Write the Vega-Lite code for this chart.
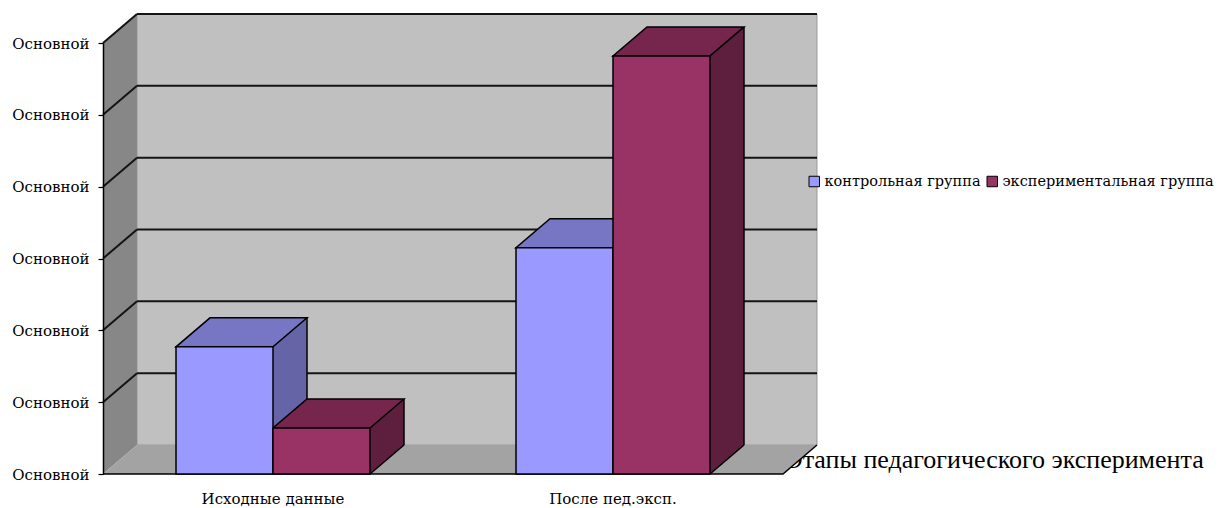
{
  "$schema": "https://vega.github.io/schema/vega-lite/v6.json",
  "width": 680,
  "height": 431,
  "autosize": {"type": "none"},
  "padding": {"left": 103, "top": 43, "right": 443, "bottom": 34},
  "background": "#ffffff",
  "config": {"view": {"stroke": null}, "axis": {"grid": false}},
  "datasets": {
    "results": [
      {"stage": "Исходные данные", "group": "контрольная группа", "value": 1.77},
      {"stage": "Исходные данные", "group": "экспериментальная группа", "value": 0.64},
      {"stage": "После пед.эксп.", "group": "контрольная группа", "value": 3.15},
      {"stage": "После пед.эксп.", "group": "экспериментальная группа", "value": 5.82}
    ],
    "levels": [
      {"level": 1}, {"level": 2}, {"level": 3}, {"level": 4}, {"level": 5}, {"level": 6}
    ],
    "frame": [{"part": "walls"}]
  },
  "layer": [
    {
      "description": "back wall, pushed back by the depth offset",
      "data": {"name": "frame"},
      "mark": {"type": "rect", "fill": "#C0C0C0", "stroke": "#9a9a9a", "strokeWidth": 1, "xOffset": 34, "x2Offset": 34, "yOffset": -29, "y2Offset": -29},
      "encoding": {
        "x": {"value": 0},
        "x2": {"value": "width"},
        "y": {
          "datum": 6, "type": "quantitative",
          "scale": {"domain": [0, 6], "nice": false, "zero": true},
          "axis": {
            "values": [0, 1, 2, 3, 4, 5, 6],
            "labelExpr": "'Основной'",
            "title": null,
            "grid": false,
            "labelFont": "DejaVu Serif",
            "labelFontSize": 15,
            "labelColor": "#000000",
            "labelPadding": 9,
            "tickSize": 5,
            "tickColor": "#000000",
            "tickWidth": 1.2,
            "domainColor": "#000000",
            "domainWidth": 1.5,
            "zindex": 1
          }
        },
        "y2": {"datum": 0}
      }
    },
    {
      "description": "left side wall",
      "data": {"name": "frame"},
      "mark": {"type": "point", "shape": "M0,0 V-431 L34,-460 V-29 Z", "size": 4, "filled": true, "fill": "#878787", "strokeWidth": 0, "opacity": 1},
      "encoding": {"x": {"value": 0}, "y": {"datum": 0, "type": "quantitative"}}
    },
    {
      "description": "floor",
      "data": {"name": "frame"},
      "mark": {"type": "point", "shape": "M0,0 H680 L714,-29 H34 Z", "size": 4, "filled": true, "fill": "#A3A3A3", "strokeWidth": 0, "opacity": 1},
      "encoding": {"x": {"value": 0}, "y": {"datum": 0, "type": "quantitative"}}
    },
    {
      "description": "floor front and right edges",
      "data": {"name": "frame"},
      "mark": {"type": "point", "shape": "M0,0 H680 L714,-29", "size": 4, "filled": false, "stroke": "#000000", "strokeWidth": 1.5, "opacity": 1},
      "encoding": {"x": {"value": 0}, "y": {"datum": 0, "type": "quantitative"}}
    },
    {
      "description": "gridlines on the back wall",
      "data": {"name": "levels"},
      "mark": {"type": "rule", "stroke": "#141414", "strokeWidth": 2, "xOffset": 34, "x2Offset": 34, "yOffset": -29},
      "encoding": {
        "x": {"value": 0},
        "x2": {"value": "width"},
        "y": {"field": "level", "type": "quantitative"}
      }
    },
    {
      "description": "gridlines on the side wall",
      "data": {"name": "levels"},
      "mark": {"type": "rule", "stroke": "#141414", "strokeWidth": 2, "x2Offset": 34, "y2Offset": -29},
      "encoding": {
        "x": {"value": 0},
        "x2": {"value": 0},
        "y": {"field": "level", "type": "quantitative"},
        "y2": {"field": "level"}
      }
    },
    {
      "data": {"name": "results"},
      "layer": [
        {
          "description": "side face body, control group",
          "transform": [{"filter": {"field": "group", "equal": "контрольная группа"}}],
          "mark": {"type": "rule", "stroke": "#6464A6", "strokeWidth": 34, "xOffset": 17, "y2Offset": -29, "opacity": 1},
          "encoding": {
            "x": {"field": "stage", "type": "nominal", "bandPosition": 0.5},
            "y": {"field": "value", "type": "quantitative"},
            "y2": {"datum": 0}
          }
        },
        {
          "description": "side face body, experimental group",
          "transform": [{"filter": {"field": "group", "equal": "экспериментальная группа"}}],
          "mark": {"type": "rule", "stroke": "#5E1E3E", "strokeWidth": 34, "xOffset": 114, "y2Offset": -29, "opacity": 1},
          "encoding": {
            "x": {"field": "stage", "type": "nominal", "bandPosition": 0.5},
            "y": {"field": "value", "type": "quantitative"},
            "y2": {"datum": 0}
          }
        },
        {
          "description": "side face top corner",
          "mark": {"type": "point", "shape": "M48.5,0 L82.5,-29 V2 H48.5 Z", "size": 4, "filled": true, "strokeWidth": 0, "opacity": 1},
          "encoding": {
            "x": {"field": "stage", "type": "nominal"},
            "xOffset": {"field": "group", "type": "nominal", "sort": null},
            "y": {"field": "value", "type": "quantitative"},
            "fill": {"condition": {"test": "datum.group === 'контрольная группа'", "value": "#6464A6"}, "value": "#5E1E3E"}
          }
        },
        {
          "description": "side face bottom corner",
          "mark": {"type": "point", "shape": "M48.5,-32 V0 L82.5,-29 V-32 Z", "size": 4, "filled": true, "strokeWidth": 0, "opacity": 1},
          "encoding": {
            "x": {"field": "stage", "type": "nominal"},
            "xOffset": {"field": "group", "type": "nominal", "sort": null},
            "y": {"datum": 0, "type": "quantitative"},
            "fill": {"condition": {"test": "datum.group === 'контрольная группа'", "value": "#6464A6"}, "value": "#5E1E3E"}
          }
        },
        {
          "description": "back vertical edge, control group",
          "transform": [{"filter": {"field": "group", "equal": "контрольная группа"}}],
          "mark": {"type": "rule", "stroke": "#000000", "strokeWidth": 1.5, "xOffset": 34, "yOffset": -29, "y2Offset": -29, "opacity": 1},
          "encoding": {
            "x": {"field": "stage", "type": "nominal", "bandPosition": 0.5},
            "y": {"field": "value", "type": "quantitative"},
            "y2": {"datum": 0}
          }
        },
        {
          "description": "back vertical edge, experimental group",
          "transform": [{"filter": {"field": "group", "equal": "экспериментальная группа"}}],
          "mark": {"type": "rule", "stroke": "#000000", "strokeWidth": 1.5, "xOffset": 131, "yOffset": -29, "y2Offset": -29, "opacity": 1},
          "encoding": {
            "x": {"field": "stage", "type": "nominal", "bandPosition": 0.5},
            "y": {"field": "value", "type": "quantitative"},
            "y2": {"datum": 0}
          }
        },
        {
          "description": "side face bottom edge",
          "mark": {"type": "point", "shape": "M48.5,0 L82.5,-29", "size": 4, "filled": false, "stroke": "#000000", "strokeWidth": 1.5, "opacity": 1},
          "encoding": {
            "x": {"field": "stage", "type": "nominal"},
            "xOffset": {"field": "group", "type": "nominal", "sort": null},
            "y": {"datum": 0, "type": "quantitative"}
          }
        },
        {
          "description": "top faces",
          "mark": {"type": "point", "shape": "M-48.5,0 H48.5 L82.5,-29 H-14.5 Z", "size": 4, "filled": true, "stroke": "#000000", "strokeWidth": 1.5, "strokeJoin": "miter", "opacity": 1},
          "encoding": {
            "x": {"field": "stage", "type": "nominal"},
            "xOffset": {"field": "group", "type": "nominal", "sort": null},
            "y": {"field": "value", "type": "quantitative"},
            "fill": {"condition": {"test": "datum.group === 'контрольная группа'", "value": "#7676C4"}, "value": "#76264D"}
          }
        },
        {
          "description": "front faces",
          "mark": {"type": "bar", "stroke": "#000000", "strokeWidth": 1.5, "strokeJoin": "miter", "opacity": 1},
          "encoding": {
            "x": {
              "field": "stage", "type": "nominal", "sort": null,
              "scale": {"domain": ["Исходные данные", "После пед.эксп."], "paddingInner": 0.429412, "paddingOuter": 0.214706},
              "axis": {
                "title": "Этапы педагогического эксперимента",
                "titleFont": "Liberation Serif",
                "titleFontSize": 26,
                "titleFontWeight": "normal",
                "titleColor": "#000000",
                "titleX": 682,
                "titleY": -7,
                "titleAlign": "left",
                "titleBaseline": "alphabetic",
                "labelFont": "DejaVu Serif",
                "labelFontSize": 15,
                "labelColor": "#000000",
                "labelAngle": 0,
                "labelAlign": "center",
                "labelBaseline": "alphabetic",
                "labelPadding": 29,
                "ticks": false,
                "tickSize": 0,
                "domain": false,
                "grid": false,
                "zindex": 0
              }
            },
            "xOffset": {"field": "group", "type": "nominal", "sort": null},
            "y": {"field": "value", "type": "quantitative", "stack": null},
            "y2": {"datum": 0},
            "color": {
              "field": "group", "type": "nominal",
              "scale": {"domain": ["контрольная группа", "экспериментальная группа"], "range": ["#9999FF", "#993366"]},
              "legend": {
                "orient": "none",
                "legendX": 704,
                "legendY": 131,
                "direction": "horizontal",
                "title": null,
                "padding": 0,
                "symbolType": "square",
                "symbolSize": 110,
                "symbolStrokeColor": "#000000",
                "symbolStrokeWidth": 1,
                "symbolOpacity": 1,
                "labelFont": "DejaVu Serif",
                "labelFontSize": 14.5,
                "labelColor": "#000000",
                "labelLimit": 400,
                "labelOffset": 3,
                "columnPadding": 4
              }
            }
          }
        }
      ]
    }
  ]
}
